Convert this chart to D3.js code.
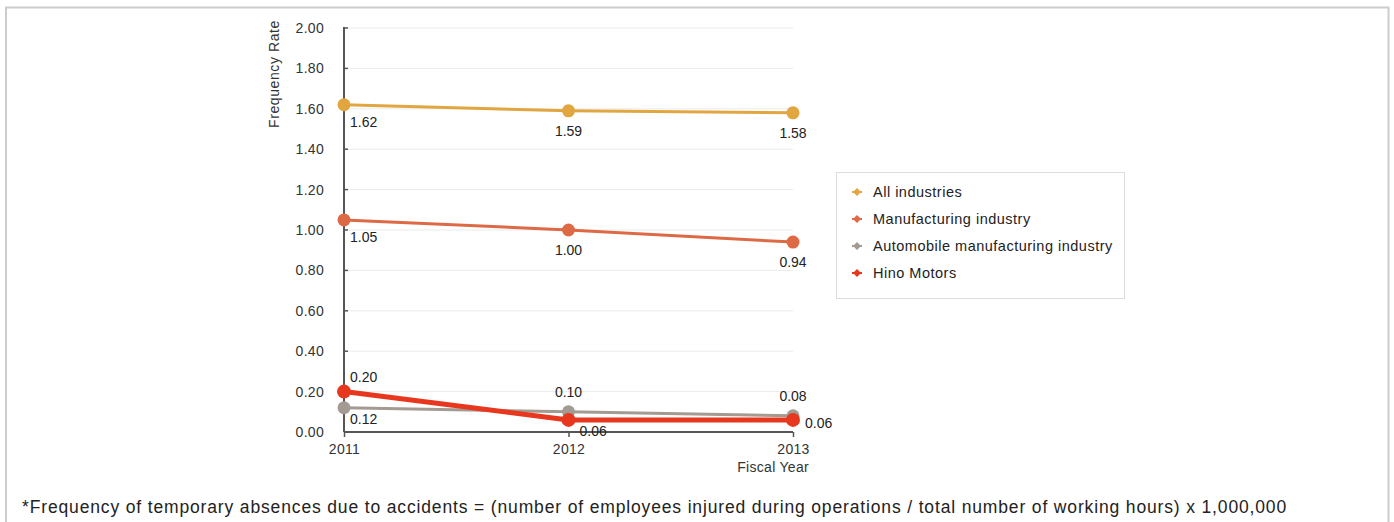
<!DOCTYPE html>
<html>
<head>
<meta charset="utf-8">
<script src="https://cdn.jsdelivr.net/npm/d3@7"></script>
<style>
  body { margin: 0; background: #fff; font-family: "Liberation Sans", Arial, Helvetica, sans-serif; }
  svg { display: block; }
</style>
</head>
<body>
<svg id="chart" width="1394" height="522"></svg>
<script>
// data
const years = ['2011', '2012', '2013'];
const seriesNames = ['All industries', 'Manufacturing industry', 'Automobile manufacturing industry', 'Hino Motors'];
const allIndustries = [1.62, 1.59, 1.58];
const manufacturing = [1.05, 1.00, 0.94];
const automobile = [0.12, 0.10, 0.08];
const hino = [0.20, 0.06, 0.06];
const yTicks = [0, 0.2, 0.4, 0.6, 0.8, 1.0, 1.2, 1.4, 1.6, 1.8, 2.0];
const footnote = '*Frequency of temporary absences due to accidents = (number of employees injured during operations / total number of working hours) x 1,000,000';

const colors = ['#e1a640', '#dd6a45', '#a39a91', '#e8371f'];
const widths = [3, 3, 3, 5];
// where each value label sits relative to its point
const labelPos = [
  ['br', 'b', 'b'],
  ['br', 'b', 'b'],
  ['bs', 't', 't'],
  ['tr', 'bx', 'r']
];

const svg = d3.select('#chart');

// outer frame
svg.append('rect')
  .attr('x', 6).attr('y', 7.5)
  .attr('width', 1382.5).attr('height', 530)
  .attr('fill', 'none').attr('stroke', '#cccccc').attr('stroke-width', 2);

const margin = {left: 344, top: 28};
const width = 449, height = 404;

const x = d3.scalePoint().domain(years).range([0, width]);
const y = d3.scaleLinear().domain([0, 2]).range([height, 0]);

const g = svg.append('g').attr('transform', `translate(${margin.left},${margin.top})`);

// grid
g.append('g').selectAll('line').data(yTicks.slice(1)).join('line')
  .attr('x1', 0).attr('x2', width)
  .attr('y1', d => y(d)).attr('y2', d => y(d))
  .attr('stroke', '#ebebeb').attr('stroke-width', 1);

const axisFont = sel => sel.attr('fill', '#333')
  .style('font-size', '14px')
  .style('letter-spacing', '0.3px')
  .style('font-family', '"Liberation Sans", Arial, sans-serif');

// axes
const yAxis = g.append('g').call(d3.axisLeft(y).tickValues(yTicks).tickFormat(d3.format('.2f')).tickSize(0).tickPadding(20));
yAxis.select('.domain').remove();
yAxis.selectAll('text').call(axisFont);
g.append('g').selectAll('line').data(yTicks).join('line')
  .attr('x1', 0).attr('x2', 4).attr('y1', d => y(d)).attr('y2', d => y(d))
  .attr('stroke', '#555').attr('stroke-width', 1.5);

const xAxis = g.append('g').attr('transform', `translate(0,${height})`)
  .call(d3.axisBottom(x).tickSize(5).tickPadding(7));
xAxis.select('.domain').remove();
xAxis.selectAll('line').attr('stroke', '#555').attr('stroke-width', 1.5);
xAxis.selectAll('text').call(axisFont);

g.append('line').attr('x1', 0).attr('x2', 0).attr('y1', -1).attr('y2', height)
  .attr('stroke', '#555').attr('stroke-width', 2);
g.append('line').attr('x1', 0).attr('x2', width).attr('y1', height).attr('y2', height)
  .attr('stroke', '#555').attr('stroke-width', 2);

// titles
svg.append('text')
  .attr('transform', 'translate(279,20) rotate(-90)')
  .attr('text-anchor', 'end')
  .call(axisFont).style('letter-spacing', '0.6px')
  .text('Frequency Rate');
svg.append('text')
  .attr('x', 809).attr('y', 472)
  .attr('text-anchor', 'end')
  .call(axisFont)
  .text('Fiscal Year');

// series
const allSeries = [allIndustries, manufacturing, automobile, hino];
const line = d3.line().x((d, i) => x(years[i])).y(d => y(d));

allSeries.forEach((vals, s) => {
  const sg = g.append('g');
  sg.append('path').datum(vals)
    .attr('d', line)
    .attr('fill', 'none')
    .attr('stroke', colors[s])
    .attr('stroke-width', widths[s]);
  sg.selectAll('circle').data(vals).join('circle')
    .attr('cx', (d, i) => x(years[i]))
    .attr('cy', d => y(d))
    .attr('r', s === 3 ? 7 : 6.5)
    .attr('fill', colors[s]);
});

// value labels drawn last so they sit above lines
const offsets = {
  br: {dx: 6, dy: 22, anchor: 'start'},
  bs: {dx: 6, dy: 16.5, anchor: 'start'},
  bx: {dx: 11, dy: 16, anchor: 'start'},
  b:  {dx: 0, dy: 25, anchor: 'middle'},
  t:  {dx: 0, dy: -15, anchor: 'middle'},
  tr: {dx: 6, dy: -10, anchor: 'start'},
  r:  {dx: 12, dy: 8, anchor: 'start'}
};
allSeries.forEach((vals, s) => {
  g.append('g').selectAll('text').data(vals).join('text')
    .attr('x', (d, i) => x(years[i]) + offsets[labelPos[s][i]].dx)
    .attr('y', (d, i) => y(d) + offsets[labelPos[s][i]].dy)
    .attr('text-anchor', (d, i) => offsets[labelPos[s][i]].anchor)
    .attr('fill', '#222').style('font-size', '14px')
    .text(d => d3.format('.2f')(d));
});

// legend
const legend = svg.append('g').attr('transform', 'translate(836,172)');
legend.append('rect').attr('x', 0.5).attr('y', 0.5).attr('width', 288).attr('height', 126)
  .attr('fill', '#fff').attr('stroke', '#dddddd');
const items = legend.selectAll('g.item').data(seriesNames).join('g')
  .attr('class', 'item')
  .attr('transform', (d, i) => `translate(21,${20 + i * 27})`);
items.append('line').attr('x1', -5).attr('x2', 5)
  .attr('stroke', (d, i) => colors[i]).attr('stroke-width', 2);
items.append('path').attr('d', 'M0,-4L4,0L0,4L-4,0Z').attr('fill', (d, i) => colors[i]);
items.append('text').attr('x', 16).attr('dy', '0.35em')
  .attr('fill', '#222').style('font-size', '14.5px').style('letter-spacing', '0.5px')
  .text(d => d);

// footnote
svg.append('text')
  .attr('x', 22).attr('y', 513)
  .attr('fill', '#222').style('font-size', '17.5px').style('letter-spacing', '0.85px')
  .text(footnote);
</script>
</body>
</html>
